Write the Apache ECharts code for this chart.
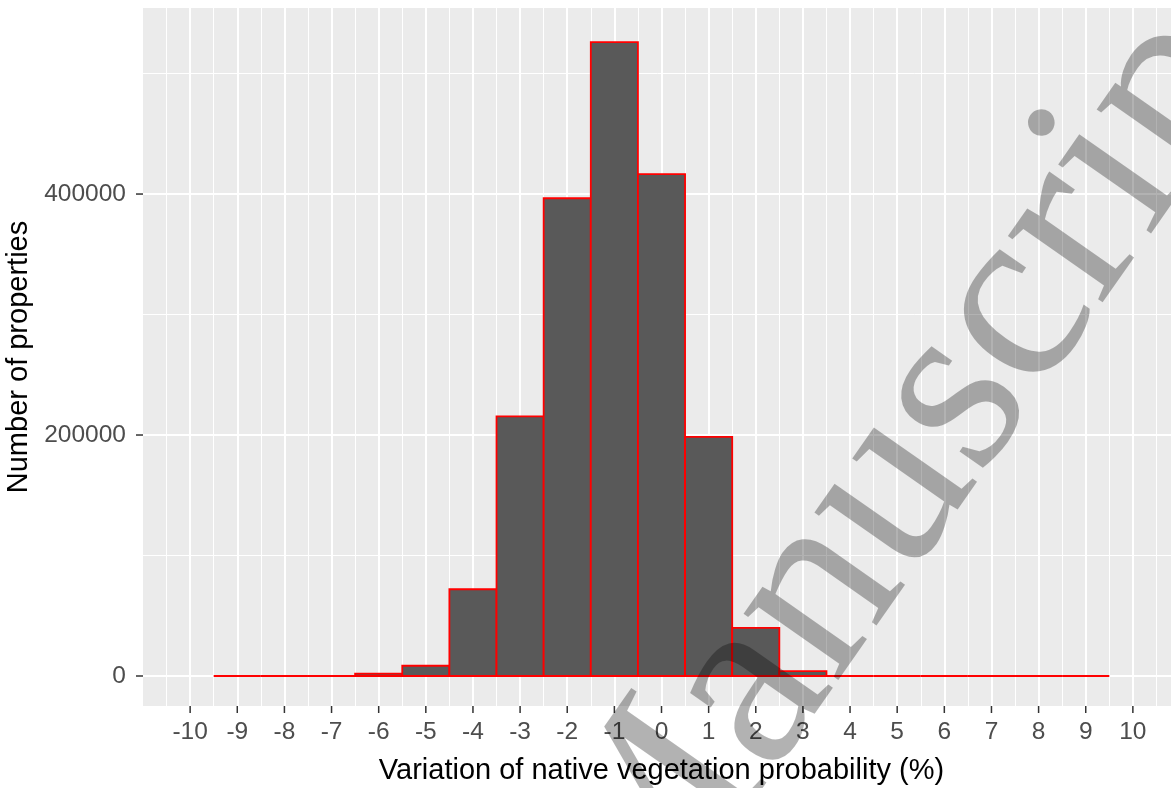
<!DOCTYPE html>
<html>
<head>
<meta charset="utf-8">
<script src="https://cdn.jsdelivr.net/npm/echarts@6/dist/echarts.min.js"></script>
<style>
  html, body { margin: 0; padding: 0; background: #fff; }
  #chart { width: 1171px; height: 788px; }
</style>
</head>
<body>
<div id="chart"></div>
<script>
// histogram bins (centre of each 1% bin) and counts
var binCentres = [-9, -8, -7, -6, -5, -4, -3, -2, -1, 0, 1, 2, 3, 4, 5, 6, 7, 8, 9];
var counts = [0, 0, 0, 2000, 8500, 72000, 215500, 396500, 526000, 416500, 198500, 40000, 4000, 0, 0, 0, 0, 0, 0];

// axis breaks
var xBreaks = [-10, -9, -8, -7, -6, -5, -4, -3, -2, -1, 0, 1, 2, 3, 4, 5, 6, 7, 8, 9, 10];
var xMinor = [-10.5, -9.5, -8.5, -7.5, -6.5, -5.5, -4.5, -3.5, -2.5, -1.5, -0.5, 0.5, 1.5, 2.5, 3.5, 4.5, 5.5, 6.5, 7.5, 8.5, 9.5, 10.5];
var yBreaks = [0, 200000, 400000];
var yMinor = [100000, 300000, 500000];

var xTitle = 'Variation of native vegetation probability (%)';
var yTitle = 'Number of properties';

var xMin = -11, xMax = 11;
var yMin = -24900, yMax = 554400;

var chart = echarts.init(document.getElementById('chart'));

var data = binCentres.map(function (x, i) { return [x, counts[i]]; });

// grid lines (ggplot style: white major + thinner minor)
var gridLines = [];
xBreaks.forEach(function (v) { gridLines.push({ xAxis: v, lineStyle: { width: 2 } }); });
xMinor.forEach(function (v) { gridLines.push({ xAxis: v, lineStyle: { width: 1 } }); });
yBreaks.forEach(function (v) { gridLines.push({ yAxis: v, lineStyle: { width: 2 } }); });
yMinor.forEach(function (v) { gridLines.push({ yAxis: v, lineStyle: { width: 1 } }); });

function renderBar(params, api) {
  var x = api.value(0), y = api.value(1);
  var p0 = api.coord([x - 0.5, y]);
  var p1 = api.coord([x + 0.5, 0]);
  var h = p1[1] - p0[1];
  if (h < 1) {
    return {
      type: 'line',
      shape: { x1: p0[0], y1: p1[1], x2: p1[0], y2: p1[1] },
      style: { stroke: '#FF0000', lineWidth: 1.8 }
    };
  }
  return {
    type: 'rect',
    shape: { x: p0[0], y: p0[1], width: p1[0] - p0[0], height: h },
    style: { fill: '#595959', stroke: '#FF0000', lineWidth: 1.8 }
  };
}

// small tick marks outside the panel
var tickLen = 7;
function renderXTick(params, api) {
  var p = api.coord([api.value(0), yMin]);
  return { type: 'line', shape: { x1: p[0], y1: p[1], x2: p[0], y2: p[1] + tickLen },
    style: { stroke: '#333333', lineWidth: 1.5 } };
}
function renderYTick(params, api) {
  var p = api.coord([xMin, api.value(0)]);
  return { type: 'line', shape: { x1: p[0] - tickLen, y1: p[1], x2: p[0], y2: p[1] },
    style: { stroke: '#333333', lineWidth: 1.5 } };
}

var fontFamily = '"Liberation Sans", Arial, sans-serif';

chart.setOption({
  animation: false,
  backgroundColor: '#FFFFFF',
  grid: {
    left: 143, top: 8, width: 1037, height: 698,
    show: true, backgroundColor: '#EBEBEB', borderWidth: 0,
    outerBoundsMode: 'none'
  },
  xAxis: {
    type: 'value', min: xMin, max: xMax,
    name: xTitle, nameLocation: 'middle', nameGap: 50,
    nameTextStyle: { fontSize: 29, color: '#000', fontFamily: fontFamily },
    axisLine: { show: false },
    splitLine: { show: false },
    axisTick: { show: false },
    axisLabel: { customValues: xBreaks, fontSize: 24.5, color: '#4D4D4D', margin: 14, fontFamily: fontFamily }
  },
  yAxis: {
    type: 'value', min: yMin, max: yMax,
    name: yTitle, nameLocation: 'middle', nameGap: 97,
    nameTextStyle: { fontSize: 29, color: '#000', fontFamily: fontFamily },
    axisLine: { show: false },
    splitLine: { show: false },
    axisTick: { show: false },
    axisLabel: {
      customValues: yBreaks, fontSize: 24.5, color: '#4D4D4D', margin: 17, fontFamily: fontFamily,
      formatter: function (v) { return String(v); }
    }
  },
  series: [{
    type: 'line',
    data: [],
    z: 1,
    markLine: {
      silent: true, symbol: 'none', z: 1, animation: false,
      label: { show: false },
      lineStyle: { color: '#FFFFFF', type: 'solid' },
      data: gridLines
    }
  }, {
    type: 'custom',
    z: 3,
    renderItem: renderBar,
    data: data
  }, {
    type: 'custom',
    clip: false, silent: true,
    renderItem: renderXTick,
    data: xBreaks.map(function (v) { return [v]; })
  }, {
    type: 'custom',
    clip: false, silent: true,
    renderItem: renderYTick,
    data: yBreaks.map(function (v) { return [v]; })
  }],
  // accepted-manuscript watermark over the figure
  graphic: [{
    type: 'text',
    x: 588, y: 922,
    rotation: 55 * Math.PI / 180,
    z: 100,
    silent: true,
    style: {
      text: 'Manuscript',
      font: '252px "Liberation Serif", "Times New Roman", serif',
      fill: 'rgba(0,0,0,0.3)',
      align: 'left',
      verticalAlign: 'middle'
    }
  }]
});
</script>
</body>
</html>
